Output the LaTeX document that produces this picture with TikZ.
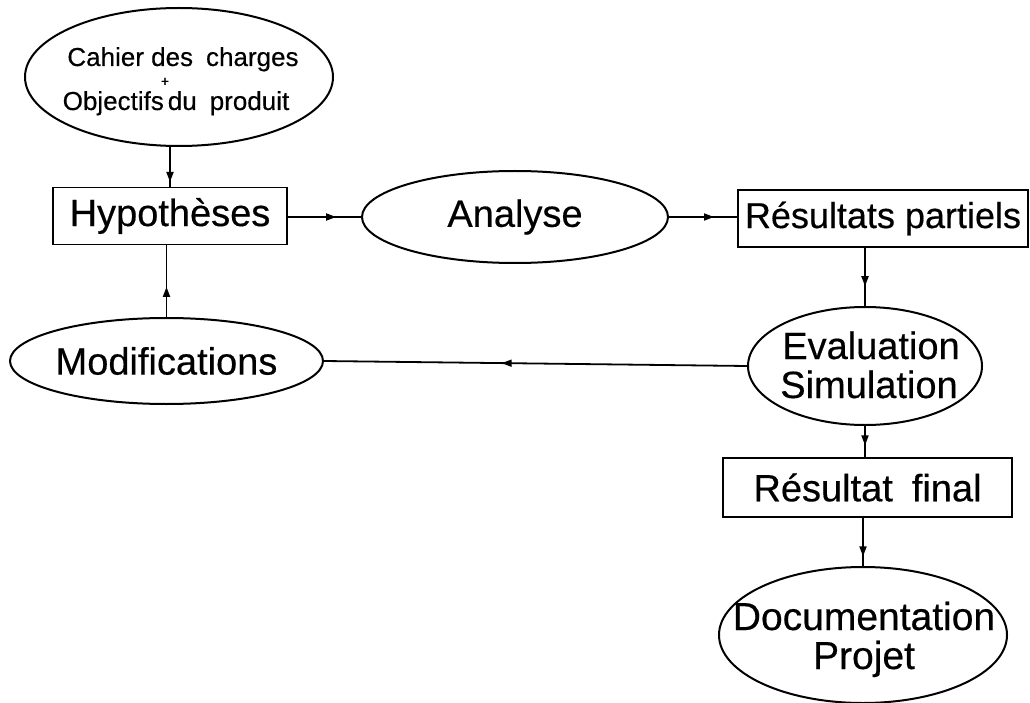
\documentclass[tikz,border=0pt]{standalone}
\usepackage{fontspec}
\setmainfont{Liberation Sans}[FakeBold=0.4]
\usetikzlibrary{shapes.geometric,arrows.meta,decorations.markings}

\begin{document}
\begin{tikzpicture}[x=1pt,y=-1pt,
  flow/.style={line width=1.8pt},
  ell/.style={draw,ellipse,line width=2pt,inner sep=0pt},
  rbox/.style={draw,rectangle,line width=1.6pt,inner sep=0pt,
    font=\fontsize{38}{38}\selectfont},
  lbl/.style={inner sep=0pt,align=center,font=\fontsize{38}{34}\selectfont},
  bline/.style={inner sep=0pt,anchor=base,font=\fontsize{39}{39}\selectfont},
  small/.style={inner sep=0pt,anchor=base,font=\fontsize{26}{26}\selectfont},
  tip at/.style={decoration={markings,
      mark=at position #1 with {\arrow{Triangle[length=10pt,width=7pt]}}},
    postaction={decorate}}
]
\useasboundingbox (0,0) rectangle (1030,703);

% requirements
\node[ell,minimum width=308pt,minimum height=138pt] (req) at (179,77) {};
\node[small] (req1) at (183,66) {Cahier des\enspace charges};
\node[inner sep=0pt,font=\fontsize{14}{14}\selectfont] (plus) at (165,82) {+};
\node[small] (req2) at (176,110) {Objectifs\kern4pt du\enspace produit};

% main loop
\node[rbox,minimum width=234pt,minimum height=57pt] (hyp) at (170,216) {Hypothèses};
\node[ell,minimum width=306pt,minimum height=92pt] (ana) at (515,217) {};
\node[lbl] (anatxt) at (ana) {Analyse};
\node[rbox,minimum width=290pt,minimum height=57pt,
  font=\fontsize{36}{36}\selectfont] (res) at (883,218.5) {Résultats partiels};
\node[ell,minimum width=234pt,minimum height=118pt] (eva) at (865,366) {};
\node[bline,font=\fontsize{38}{38}\selectfont] (evatxt1) at (871,359) {Evaluation};
\node[bline,font=\fontsize{38}{38}\selectfont] (evatxt2) at (869,398) {Simulation};
\node[ell,minimum width=313pt,minimum height=86pt] (mod) at (166.5,361) {};
\node[lbl] (modtxt) at (mod) {Modifications};

% outputs
\node[rbox,minimum width=289pt,minimum height=59pt] (fin) at (867.5,487.5) {Résultat\enspace final};
\node[ell,minimum width=288pt,minimum height=136pt] (doc) at (863,635) {};
\node[bline] (doctxt1) at (864,630) {Documentation};
\node[bline] (doctxt2) at (864,669) {Projet};

% connectors
\draw[flow,tip at=0.88] (req.south -| hyp.north) -- (hyp.north);
\draw[flow,tip at=0.66] (hyp.east |- ana.west) -- (ana.west);
\draw[flow,tip at=0.66] (ana.east) -- (ana.east -| res.west);
\draw[flow,tip at=0.66] (eva.north |- res.south) -- (eva.north);
\draw[flow,tip at=0.58] (eva.west) -- (mod.east);
\draw[flow,tip at=0.42] (mod.north) -- (mod.north |- hyp.south);
\draw[flow,tip at=0.62] (eva.south) -- (eva.south |- fin.north);
\draw[flow,tip at=0.8] (doc.north |- fin.south) -- (doc.north);
\end{tikzpicture}
\end{document}
